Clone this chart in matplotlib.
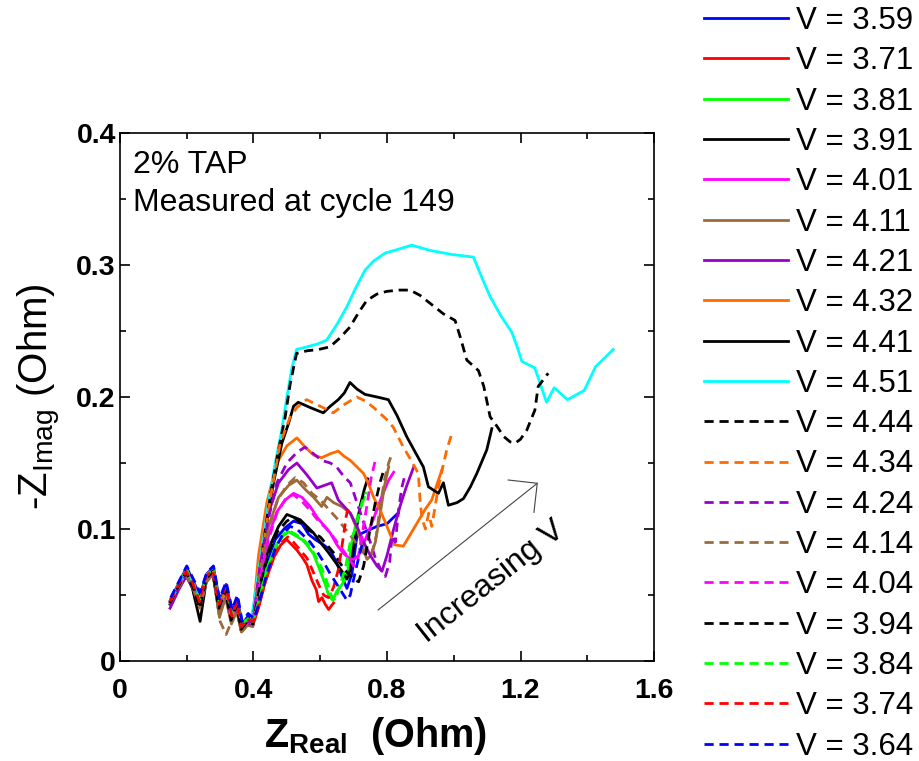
import matplotlib
matplotlib.use("Agg")
import matplotlib.pyplot as plt
from matplotlib.ticker import MultipleLocator

plt.rcParams['font.family'] = ['Liberation Sans', 'DejaVu Sans']
plt.rcParams['mathtext.fontset'] = 'custom'
plt.rcParams['mathtext.rm'] = 'Liberation Sans'
plt.rcParams['mathtext.bf'] = 'Liberation Sans:bold'
plt.rcParams['mathtext.it'] = 'Liberation Sans:italic'

# Nyquist spectra (Z_real, -Z_imag) in Ohm, one list per cell voltage
v359 = [(0.152,0.047),(0.178,0.060),(0.200,0.071),(0.220,0.060),(0.240,0.050),(0.260,0.066),(0.280,0.071),(0.298,0.046),(0.318,0.058),(0.336,0.037),(0.352,0.047),(0.366,0.028),(0.384,0.034),(0.400,0.031),(0.418,0.050),(0.440,0.074),(0.465,0.092),(0.495,0.101),(0.520,0.106),(0.545,0.104),(0.565,0.096),(0.585,0.092),(0.610,0.088),(0.630,0.084),(0.650,0.074),(0.668,0.062),(0.680,0.055),(0.695,0.066),(0.710,0.095),(0.735,0.098),(0.770,0.102),(0.800,0.104),(0.833,0.112)]
v371 = [(0.150,0.045),(0.176,0.058),(0.198,0.068),(0.218,0.058),(0.238,0.043),(0.258,0.063),(0.277,0.068),(0.296,0.041),(0.316,0.055),(0.334,0.032),(0.350,0.043),(0.364,0.024),(0.382,0.030),(0.398,0.027),(0.415,0.040),(0.435,0.060),(0.462,0.079),(0.482,0.088),(0.499,0.092),(0.515,0.088),(0.530,0.084),(0.545,0.079),(0.560,0.073),(0.575,0.061),(0.588,0.054),(0.595,0.045),(0.605,0.048),(0.615,0.043),(0.625,0.039),(0.640,0.044)]
v381 = [(0.151,0.046),(0.177,0.059),(0.199,0.069),(0.219,0.059),(0.239,0.045),(0.259,0.064),(0.279,0.069),(0.297,0.043),(0.317,0.056),(0.335,0.034),(0.351,0.045),(0.365,0.026),(0.383,0.032),(0.399,0.029),(0.418,0.050),(0.440,0.070),(0.468,0.088),(0.490,0.095),(0.505,0.098),(0.525,0.095),(0.545,0.092),(0.560,0.088),(0.580,0.081),(0.600,0.068),(0.615,0.058),(0.625,0.050),(0.637,0.046),(0.650,0.053),(0.665,0.058),(0.680,0.064),(0.695,0.090),(0.710,0.108),(0.722,0.117),(0.732,0.124)]
v391 = [(0.150,0.043),(0.176,0.056),(0.197,0.066),(0.217,0.055),(0.240,0.030),(0.258,0.060),(0.278,0.067),(0.296,0.038),(0.315,0.052),(0.333,0.030),(0.349,0.040),(0.363,0.023),(0.381,0.029),(0.398,0.027),(0.420,0.060),(0.445,0.085),(0.475,0.102),(0.500,0.111),(0.520,0.109),(0.540,0.107),(0.560,0.102),(0.580,0.097),(0.600,0.090),(0.625,0.082),(0.645,0.075),(0.665,0.068),(0.680,0.062),(0.690,0.069),(0.705,0.095),(0.720,0.118),(0.732,0.130),(0.742,0.138)]
v401 = [(0.151,0.046),(0.176,0.058),(0.198,0.067),(0.218,0.058),(0.238,0.044),(0.259,0.064),(0.278,0.068),(0.297,0.042),(0.316,0.054),(0.334,0.033),(0.350,0.043),(0.364,0.025),(0.382,0.031),(0.398,0.028),(0.420,0.065),(0.445,0.095),(0.470,0.113),(0.495,0.122),(0.520,0.127),(0.545,0.124),(0.570,0.117),(0.590,0.109),(0.610,0.103),(0.630,0.097),(0.650,0.088),(0.668,0.082),(0.685,0.078),(0.700,0.077),(0.715,0.080),(0.735,0.092),(0.760,0.108),(0.785,0.125),(0.805,0.137),(0.820,0.143)]
v411 = [(0.151,0.044),(0.177,0.056),(0.198,0.065),(0.218,0.056),(0.239,0.040),(0.259,0.060),(0.279,0.066),(0.298,0.033),(0.316,0.048),(0.334,0.028),(0.350,0.038),(0.364,0.022),(0.382,0.027),(0.398,0.026),(0.420,0.070),(0.445,0.102),(0.475,0.124),(0.505,0.133),(0.530,0.137),(0.555,0.130),(0.580,0.124),(0.604,0.117),(0.620,0.124),(0.640,0.120),(0.665,0.117),(0.690,0.112),(0.710,0.100),(0.725,0.088),(0.740,0.077),(0.752,0.080),(0.765,0.090),(0.780,0.112),(0.792,0.132),(0.805,0.147)]
v421 = [(0.150,0.040),(0.176,0.054),(0.198,0.064),(0.218,0.056),(0.239,0.042),(0.259,0.061),(0.279,0.066),(0.297,0.040),(0.316,0.052),(0.334,0.031),(0.350,0.041),(0.364,0.024),(0.382,0.029),(0.398,0.027),(0.418,0.075),(0.445,0.112),(0.475,0.135),(0.505,0.145),(0.530,0.150),(0.560,0.141),(0.590,0.131),(0.612,0.133),(0.634,0.135),(0.654,0.122),(0.672,0.117),(0.690,0.112),(0.710,0.102),(0.730,0.090),(0.750,0.080),(0.770,0.072),(0.785,0.068),(0.800,0.080),(0.820,0.100),(0.840,0.118),(0.858,0.132),(0.880,0.147)]
v432 = [(0.152,0.046),(0.178,0.058),(0.199,0.068),(0.219,0.058),(0.239,0.046),(0.260,0.063),(0.280,0.068),(0.298,0.042),(0.317,0.055),(0.335,0.033),(0.351,0.043),(0.365,0.024),(0.383,0.030),(0.397,0.030),(0.415,0.080),(0.440,0.120),(0.470,0.150),(0.500,0.163),(0.530,0.169),(0.555,0.162),(0.580,0.156),(0.604,0.154),(0.630,0.157),(0.654,0.159),(0.672,0.155),(0.690,0.152),(0.710,0.147),(0.730,0.142),(0.745,0.134),(0.760,0.124),(0.780,0.114),(0.800,0.102),(0.822,0.088),(0.849,0.087),(0.870,0.096),(0.889,0.104),(0.912,0.114),(0.934,0.122),(0.950,0.134),(0.966,0.146)]
v441 = [(0.151,0.045),(0.177,0.057),(0.198,0.066),(0.218,0.057),(0.239,0.043),(0.259,0.062),(0.279,0.067),(0.297,0.041),(0.316,0.054),(0.334,0.032),(0.350,0.042),(0.364,0.024),(0.382,0.030),(0.396,0.030),(0.405,0.045),(0.430,0.090),(0.460,0.135),(0.485,0.165),(0.505,0.180),(0.520,0.193),(0.534,0.196),(0.570,0.192),(0.609,0.188),(0.630,0.193),(0.654,0.198),(0.672,0.203),(0.689,0.211),(0.710,0.206),(0.734,0.202),(0.770,0.200),(0.804,0.198),(0.830,0.186),(0.859,0.170),(0.885,0.158),(0.909,0.147),(0.924,0.132),(0.954,0.127),(0.969,0.135),(0.984,0.118),(1.010,0.120),(1.029,0.123),(1.050,0.132),(1.069,0.142),(1.099,0.160),(1.114,0.176)]
v451 = [(0.152,0.046),(0.178,0.058),(0.199,0.067),(0.219,0.057),(0.239,0.045),(0.260,0.062),(0.280,0.067),(0.298,0.041),(0.317,0.054),(0.335,0.032),(0.351,0.042),(0.365,0.024),(0.380,0.030),(0.392,0.030),(0.405,0.050),(0.425,0.085),(0.445,0.120),(0.465,0.150),(0.484,0.174),(0.500,0.200),(0.515,0.222),(0.529,0.236),(0.560,0.238),(0.590,0.240),(0.619,0.243),(0.650,0.255),(0.679,0.268),(0.705,0.282),(0.734,0.296),(0.760,0.303),(0.794,0.309),(0.835,0.312),(0.874,0.315),(0.930,0.311),(0.994,0.308),(1.059,0.306),(1.085,0.290),(1.109,0.276),(1.140,0.262),(1.174,0.249),(1.190,0.238),(1.204,0.227),(1.243,0.222),(1.278,0.196),(1.301,0.207),(1.341,0.198),(1.391,0.205),(1.425,0.223),(1.478,0.236)]
v444 = [(0.150,0.044),(0.176,0.057),(0.198,0.067),(0.218,0.057),(0.238,0.042),(0.259,0.063),(0.279,0.068),(0.297,0.041),(0.316,0.055),(0.334,0.032),(0.350,0.042),(0.364,0.025),(0.382,0.030),(0.396,0.030),(0.410,0.050),(0.430,0.090),(0.452,0.128),(0.475,0.160),(0.495,0.185),(0.510,0.210),(0.529,0.233),(0.560,0.235),(0.595,0.236),(0.629,0.238),(0.660,0.245),(0.689,0.253),(0.715,0.264),(0.739,0.273),(0.770,0.278),(0.799,0.280),(0.835,0.281),(0.869,0.281),(0.899,0.277),(0.919,0.273),(0.969,0.263),(1.004,0.258),(1.020,0.245),(1.039,0.228),(1.074,0.220),(1.090,0.208),(1.109,0.185),(1.129,0.178),(1.150,0.170),(1.169,0.166),(1.184,0.165),(1.200,0.168),(1.219,0.175),(1.243,0.190),(1.253,0.208),(1.283,0.218)]
v434 = [(0.151,0.045),(0.177,0.058),(0.199,0.068),(0.219,0.058),(0.239,0.044),(0.259,0.063),(0.279,0.068),(0.297,0.040),(0.316,0.054),(0.334,0.031),(0.350,0.042),(0.364,0.023),(0.382,0.029),(0.398,0.029),(0.410,0.050),(0.432,0.092),(0.455,0.130),(0.480,0.165),(0.510,0.185),(0.530,0.192),(0.559,0.198),(0.600,0.193),(0.639,0.188),(0.670,0.194),(0.709,0.200),(0.735,0.197),(0.760,0.192),(0.799,0.183),(0.819,0.177),(0.849,0.162),(0.870,0.153),(0.894,0.142),(0.899,0.122),(0.905,0.108),(0.915,0.100),(0.925,0.112),(0.934,0.102),(0.945,0.118),(0.954,0.132),(0.970,0.150),(0.979,0.160),(0.994,0.172)]
v424 = [(0.150,0.042),(0.176,0.055),(0.198,0.065),(0.218,0.057),(0.239,0.043),(0.259,0.062),(0.279,0.067),(0.297,0.041),(0.316,0.053),(0.334,0.032),(0.350,0.042),(0.364,0.024),(0.382,0.030),(0.398,0.028),(0.418,0.070),(0.445,0.108),(0.470,0.135),(0.500,0.150),(0.530,0.158),(0.554,0.162),(0.580,0.157),(0.604,0.152),(0.630,0.150),(0.649,0.147),(0.670,0.140),(0.690,0.135),(0.710,0.120),(0.730,0.105),(0.750,0.090),(0.765,0.078),(0.780,0.070),(0.795,0.064),(0.808,0.075),(0.815,0.095),(0.825,0.090),(0.835,0.115),(0.844,0.131),(0.855,0.142)]
v414 = [(0.151,0.044),(0.177,0.056),(0.198,0.065),(0.218,0.056),(0.239,0.041),(0.259,0.060),(0.279,0.066),(0.300,0.030),(0.318,0.020),(0.334,0.030),(0.350,0.038),(0.364,0.022),(0.382,0.027),(0.398,0.027),(0.420,0.068),(0.445,0.100),(0.472,0.122),(0.500,0.133),(0.525,0.139),(0.550,0.135),(0.575,0.127),(0.600,0.122),(0.625,0.115),(0.650,0.108),(0.675,0.100),(0.700,0.092),(0.720,0.084),(0.738,0.080),(0.755,0.082),(0.768,0.095),(0.780,0.118),(0.793,0.138),(0.805,0.150),(0.812,0.155)]
v404 = [(0.151,0.046),(0.177,0.058),(0.199,0.068),(0.219,0.059),(0.239,0.045),(0.259,0.064),(0.279,0.069),(0.297,0.043),(0.316,0.055),(0.334,0.033),(0.350,0.044),(0.364,0.025),(0.382,0.031),(0.398,0.029),(0.420,0.062),(0.445,0.092),(0.470,0.112),(0.499,0.124),(0.520,0.126),(0.545,0.121),(0.570,0.114),(0.595,0.106),(0.620,0.100),(0.645,0.092),(0.665,0.085),(0.685,0.078),(0.700,0.072),(0.712,0.076),(0.725,0.095),(0.740,0.118),(0.752,0.138),(0.764,0.151)]
v394 = [(0.150,0.044),(0.176,0.057),(0.198,0.067),(0.218,0.057),(0.239,0.040),(0.258,0.062),(0.278,0.068),(0.296,0.040),(0.315,0.054),(0.333,0.031),(0.349,0.042),(0.363,0.024),(0.381,0.030),(0.398,0.028),(0.420,0.058),(0.445,0.082),(0.472,0.098),(0.500,0.106),(0.520,0.109),(0.545,0.104),(0.565,0.099),(0.580,0.097),(0.600,0.094),(0.620,0.088),(0.640,0.082),(0.660,0.074),(0.680,0.067),(0.700,0.062),(0.715,0.060),(0.730,0.072),(0.748,0.098),(0.765,0.120),(0.780,0.136),(0.792,0.146)]
v384 = [(0.151,0.046),(0.177,0.059),(0.199,0.069),(0.219,0.060),(0.239,0.046),(0.259,0.065),(0.279,0.070),(0.297,0.044),(0.317,0.057),(0.335,0.035),(0.351,0.046),(0.365,0.027),(0.383,0.033),(0.399,0.030),(0.418,0.048),(0.440,0.068),(0.465,0.085),(0.490,0.096),(0.505,0.099),(0.525,0.096),(0.545,0.093),(0.565,0.088),(0.585,0.080),(0.605,0.070),(0.620,0.060),(0.632,0.050),(0.645,0.046),(0.660,0.058),(0.675,0.070),(0.690,0.090),(0.705,0.100),(0.715,0.110),(0.725,0.120),(0.738,0.128)]
v374 = [(0.150,0.045),(0.176,0.058),(0.198,0.068),(0.218,0.059),(0.238,0.045),(0.258,0.064),(0.278,0.069),(0.297,0.043),(0.317,0.057),(0.335,0.034),(0.351,0.045),(0.365,0.026),(0.383,0.032),(0.400,0.030),(0.415,0.042),(0.438,0.062),(0.462,0.080),(0.485,0.090),(0.503,0.094),(0.520,0.090),(0.540,0.084),(0.560,0.078),(0.578,0.068),(0.595,0.058),(0.610,0.050),(0.625,0.048),(0.640,0.056),(0.655,0.070),(0.668,0.092),(0.678,0.110),(0.688,0.120)]
v364 = [(0.152,0.048),(0.178,0.061),(0.200,0.072),(0.220,0.062),(0.240,0.052),(0.260,0.067),(0.280,0.072),(0.298,0.047),(0.318,0.060),(0.336,0.039),(0.352,0.050),(0.366,0.030),(0.384,0.036),(0.402,0.032),(0.418,0.045),(0.440,0.066),(0.465,0.085),(0.490,0.097),(0.510,0.102),(0.530,0.100),(0.550,0.095),(0.570,0.090),(0.590,0.083),(0.610,0.075),(0.630,0.066),(0.650,0.058),(0.665,0.052),(0.680,0.046),(0.690,0.050),(0.700,0.062),(0.712,0.075),(0.725,0.088)]

labels = ['3.59', '3.71', '3.81', '3.91', '4.01', '4.11', '4.21', '4.32', '4.41', '4.51',
          '4.44', '4.34', '4.24', '4.14', '4.04', '3.94', '3.84', '3.74', '3.64']
spectra = [v359, v371, v381, v391, v401, v411, v421, v432, v441, v451,
           v444, v434, v424, v414, v404, v394, v384, v374, v364]

BLUE, RED, GREEN, BLACK = '#0000FF', '#FF0000', '#00FF00', '#000000'
MAGENTA, BROWN, PURPLE, ORANGE, CYAN = '#FF00FF', '#9C6B3C', '#9900CC', '#FF6A00', '#00FFFF'
colors = [BLUE, RED, GREEN, BLACK, MAGENTA, BROWN, PURPLE, ORANGE, BLACK, CYAN,
          BLACK, ORANGE, PURPLE, BROWN, MAGENTA, BLACK, GREEN, RED, BLUE]
dashed = [False] * 10 + [True] * 9

fig = plt.figure(figsize=(9.2, 7.61), dpi=100)
ax = fig.add_axes([120 / 920, 1 - 661 / 761, 534 / 920, 528 / 761])

LW = 2.0
for lab, pts, c, d in zip(labels, spectra, colors, dashed):
    xs = [p[0] for p in pts]
    ys = [p[1] for p in pts]
    ls = (0, (3.3, 2.1)) if d else '-'
    ax.plot(xs, ys, color=c, lw=LW, linestyle=ls, label=f'V = {lab}',
            solid_joinstyle='round', dash_capstyle='butt')

ax.set_xlim(0, 1.6)
ax.set_ylim(0, 0.4)
ax.xaxis.set_major_locator(MultipleLocator(0.4))
ax.xaxis.set_minor_locator(MultipleLocator(0.2))
ax.yaxis.set_major_locator(MultipleLocator(0.1))
ax.yaxis.set_minor_locator(MultipleLocator(0.05))
ax.tick_params(which='both', direction='in', top=True, right=True, width=1.2)
ax.tick_params(which='major', length=7)
ax.tick_params(which='minor', length=4)
ax.tick_params(axis='x', which='major', pad=12, labelsize=20.5)
ax.tick_params(axis='y', which='major', pad=3, labelsize=20.5)
ax.xaxis.set_major_formatter(plt.FuncFormatter(lambda v, p: '0' if v == 0 else f'{v:.1f}'))
ax.yaxis.set_major_formatter(plt.FuncFormatter(lambda v, p: '0' if v == 0 else f'{v:.1f}'))
for t in ax.get_xticklabels() + ax.get_yticklabels():
    t.set_fontweight('bold')
for s in ax.spines.values():
    s.set_linewidth(1.2)

ax.set_xlabel(r'$\mathbf{Z}_{\mathbf{Real}}$  (Ohm)', fontsize=28.5, fontweight='bold')
ax.xaxis.set_label_coords(0.479, -0.102)
ax.set_ylabel(r'-Z$_{\mathregular{Imag}}$ (Ohm)', fontsize=29)
ax.yaxis.set_label_coords(-0.107, 0.5)

ax.text(0.024, 0.924, '2% TAP', transform=ax.transAxes, fontsize=23, va='baseline')
ax.text(0.024, 0.852, 'Measured at cycle 149', transform=ax.transAxes, fontsize=23, va='baseline')

ax.annotate('', xy=(1.252, 0.135), xytext=(0.773, 0.0386),
            arrowprops=dict(arrowstyle='->,head_length=1.0,head_width=1.0',
                            color='#444444', lw=0.8, shrinkA=0, shrinkB=0,
                            mutation_scale=15))
ax.text(1.112, 0.060, 'Increasing V', fontsize=23, rotation=38.4,
        ha='center', va='center', rotation_mode='anchor')

ax.legend(loc='upper left', bbox_to_anchor=(704 / 920, 1 - 6 / 761),
          bbox_transform=fig.transFigure, frameon=False, fontsize=22.5,
          handlelength=2.7, handletextpad=0.25, labelspacing=0.33,
          borderpad=0, borderaxespad=0)

fig.savefig('out.png', dpi=100)
